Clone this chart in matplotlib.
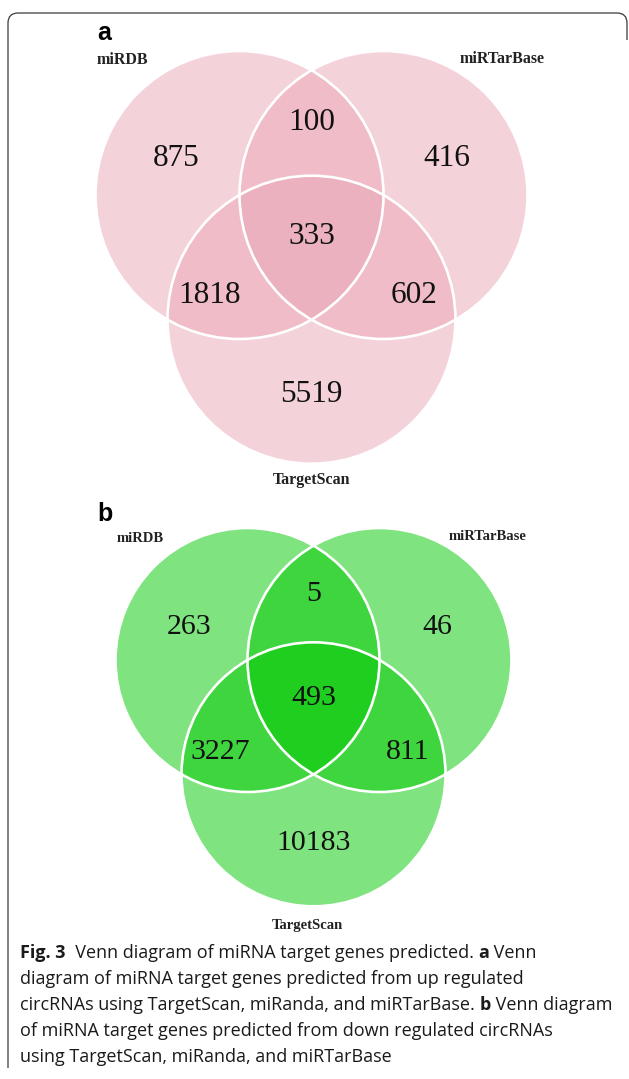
import matplotlib
matplotlib.use("Agg")
import matplotlib.pyplot as plt
from matplotlib.patches import Circle
from matplotlib.path import Path
from matplotlib.patches import PathPatch

# ---- data ----
set_names = ["miRDB", "miRTarBase", "TargetScan"]

# region order: A only, B only, C only, AB, AC, BC, ABC
counts_up = [875, 416, 5519, 100, 1818, 602, 333]
counts_down = [263, 46, 10183, 5, 3227, 811, 493]

pink = "#EBA7B7"
green = "#00C800"

W, H = 629, 1079

fig = plt.figure(figsize=(W / 100, H / 100), dpi=100)
ax = fig.add_axes([0, 0, 1, 1])
ax.set_xlim(0, W)
ax.set_ylim(H, 0)
ax.axis("off")

# rounded frame, open at right/bottom
r0 = 10
verts = [(8, 1068), (8, 13 + r0), (8, 13), (8 + r0, 13), (627 - r0, 13),
         (627, 13), (627, 13 + r0), (627, 40)]
codes = [Path.MOVETO, Path.LINETO, Path.CURVE3, Path.CURVE3, Path.LINETO,
         Path.CURVE3, Path.CURVE3, Path.LINETO]
ax.add_patch(PathPatch(Path(verts, codes), fill=False, ec="#3a3a3a", lw=0.9))

serif = "Liberation Serif"

# label offsets in units of the radius, relative to the centroid of the
# three circle centres
offsets = [(-0.94, -0.54), (0.94, -0.54), (0.0, 1.10),
           (0.0, -0.79), (-0.71, 0.41), (0.71, 0.41), (0.0, 0.0)]


def venn(cx, cy_top, r, counts, color, letter, letter_xy, name_xy,
         name_size, num_size):
    d = r  # distance between centres
    centres = [(cx - d / 2, cy_top), (cx + d / 2, cy_top),
               (cx, cy_top + d * 0.866)]
    for (x, y) in centres:
        ax.add_patch(Circle((x, y), r, fc=color, alpha=0.5, ec="none"))
    for (x, y) in centres:
        ax.add_patch(Circle((x, y), r, fill=False, ec="white", lw=1.9))
    gx = sum(c[0] for c in centres) / 3
    gy = sum(c[1] for c in centres) / 3
    for (ox, oy), n in zip(offsets, counts):
        ax.text(gx + ox * r, gy + oy * r, str(n), ha="center",
                va="center", family=serif, fontsize=num_size, color="#111")
    for (x, y), name in zip(name_xy, set_names):
        ax.text(x, y, name, ha="center", va="center", family=serif,
                fontweight="bold", fontsize=name_size, color="#222")
    ax.text(*letter_xy, letter, ha="center", va="center",
            family="Liberation Sans", fontweight="bold", fontsize=18)


venn(311.5, 195, 144, counts_up, pink, "a", (104, 33),
     [(122, 60), (502, 59), (312, 480)], 11.5, 22.5)
venn(313.5, 660, 132, counts_down, green, "b", (105, 514),
     [(140, 538), (488, 537), (307, 925)], 10.5, 21.5)

# ---- caption with bold runs ----
cap_lines = [
    [("Fig. 3", True), ("  Venn diagram of miRNA target genes predicted. ", False),
     ("a", True), (" Venn", False)],
    [("diagram of miRNA target genes predicted from up regulated", False)],
    [("circRNAs using TargetScan, miRanda, and miRTarBase. ", False),
     ("b", True), (" Venn diagram", False)],
    [("of miRNA target genes predicted from down regulated circRNAs", False)],
    [("using TargetScan, miRanda, and miRTarBase", False)],
]

renderer = fig.canvas.get_renderer()
cap_font = "Open Sans"
cap_size = 13.0
y0, dy = 953, 26
for i, line in enumerate(cap_lines):
    x = 20
    for txt, bold in line:
        t = ax.text(x, y0 + i * dy, txt, ha="left", va="center",
                    family=cap_font, fontsize=cap_size,
                    fontweight="bold" if bold else "normal", color="#1a1a1a")
        bb = t.get_window_extent(renderer=renderer)
        x += bb.width

fig.savefig("out.png", dpi=100)
